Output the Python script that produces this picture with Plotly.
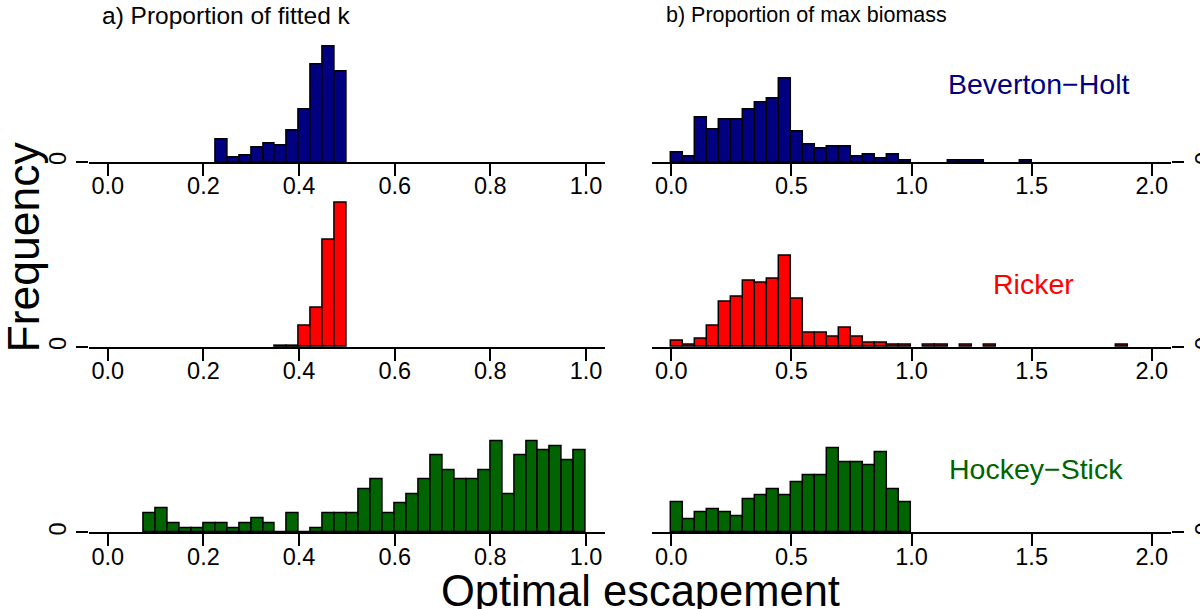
import plotly.graph_objects as go

# ---------------- data (bin left edges and counts) ----------------
bh_k_edges = [0.225, 0.25, 0.275, 0.3, 0.325, 0.35, 0.375, 0.4, 0.425, 0.45, 0.475]
bh_k_counts = [14, 3, 4, 9, 11, 10, 19, 32, 59, 70, 55]

bh_b_edges = [0.0, 0.05, 0.1, 0.15, 0.2, 0.25, 0.3, 0.35, 0.4, 0.45, 0.5, 0.55, 0.6, 0.65,
              0.7, 0.75, 0.8, 0.85, 0.9, 0.95, 1.15, 1.2, 1.25, 1.45]
bh_b_counts = [5, 3, 23, 17, 22, 22, 27, 31, 33, 43, 16, 9, 7, 8, 8, 3, 4, 2, 4, 1, 1, 1, 1, 1]

rk_k_edges = [0.35, 0.375, 0.4, 0.425, 0.45, 0.475]
rk_k_counts = [1, 1, 19, 35, 97, 131]

rk_b_edges = [0.0, 0.05, 0.1, 0.15, 0.2, 0.25, 0.3, 0.35, 0.4, 0.45, 0.5, 0.55, 0.6, 0.65,
              0.7, 0.75, 0.8, 0.85, 0.9, 0.95, 1.05, 1.1, 1.2, 1.3, 1.85]
rk_b_counts = [3, 1, 4, 11, 23, 26, 34, 33, 35, 47, 25, 7, 7, 5, 10, 5, 2, 2, 1, 1, 1, 1, 1, 1, 1]

hs_k_edges = [0.075, 0.1, 0.125, 0.15, 0.175, 0.2, 0.225, 0.25, 0.275, 0.3, 0.325, 0.35, 0.375,
              0.4, 0.425, 0.45, 0.475, 0.5, 0.525, 0.55, 0.575, 0.6, 0.625, 0.65, 0.675, 0.7,
              0.725, 0.75, 0.775, 0.8, 0.825, 0.85, 0.875, 0.9, 0.925, 0.95, 0.975]
hs_k_counts = [4, 5, 2, 1, 1, 2, 2, 1, 2, 3, 2, 0, 4, 0, 1, 4, 4, 4, 9, 11, 4, 6, 8, 11, 16, 13,
               11, 11, 13, 19, 8, 16, 19, 17, 18, 15, 17]

hs_b_edges = [0.0, 0.05, 0.1, 0.15, 0.2, 0.25, 0.3, 0.35, 0.4, 0.45, 0.5, 0.55, 0.6, 0.65,
              0.7, 0.75, 0.8, 0.85, 0.9, 0.95]
hs_b_counts = [9, 4, 6, 7, 6, 5, 10, 11, 13, 11, 15, 17, 17, 25, 21, 21, 20, 24, 13, 9]

k_bin_width = 0.025
b_bin_width = 0.05

left_ticks = [0.0, 0.2, 0.4, 0.6, 0.8, 1.0]
right_ticks = [0.0, 0.5, 1.0, 1.5, 2.0]

model_names = ["Beverton\u2212Holt", "Ricker", "Hockey\u2212Stick"]
model_colors = ["#000080", "#FF0000", "#006400"]
col_titles = ["a) Proportion of fitted k", "b) Proportion of max biomass"]

# ---------------- layout geometry (pixels of the 1200x609 picture) ----------------
W, H = 1200, 609
S = 1 / 0.9857          # compensation for the capture scaling observed in earlier runs
FONT = "Liberation Sans, Arial, Helvetica, sans-serif"
left_px = (88.6, 604.6)
right_px = (651.5, 1170.0)
rows_px = [(40.0, 160.5), (190.0, 343.5), (420.0, 527.3)]  # (top, baseline)
px_per_count = [(1.64, 1.92), (1.09, 1.92), (4.77, 3.33)]

panels = [
    [(bh_k_edges, bh_k_counts), (bh_b_edges, bh_b_counts)],
    [(rk_k_edges, rk_k_counts), (rk_b_edges, rk_b_counts)],
    [(hs_k_edges, hs_k_counts), (hs_b_edges, hs_b_counts)],
]


def fx(px):
    return px / W


def fy(py):
    return 1 - py / H


fig = go.Figure()
layout = {}
idx = 0
for r in range(3):
    top, base = rows_px[r]
    for c in range(2):
        idx += 1
        edges, counts = panels[r][c]
        bw = k_bin_width if c == 0 else b_bin_width
        xs = [e + bw / 2 for e in edges]
        xa = "x" if idx == 1 else f"x{idx}"
        ya = "y" if idx == 1 else f"y{idx}"
        fig.add_trace(go.Bar(
            x=xs, y=counts, width=bw, xaxis=xa, yaxis=ya,
            marker=dict(color=model_colors[r], line=dict(color="black", width=1.5)),
            showlegend=False, hoverinfo="x+y",
        ))
        dom = left_px if c == 0 else right_px
        xr = [-0.04, 1.04] if c == 0 else [-0.08, 2.08]
        ticks = left_ticks if c == 0 else right_ticks
        xkey = "xaxis" if idx == 1 else f"xaxis{idx}"
        ykey = "yaxis" if idx == 1 else f"yaxis{idx}"
        layout[xkey] = dict(
            domain=[fx(dom[0]), fx(dom[1])], range=xr, anchor=ya,
            tickvals=ticks, ticktext=[f"{t:.1f}" for t in ticks],
            ticks="outside", ticklen=12, tickwidth=2, tickcolor="black",
            ticklabelstandoff=-10,
            showline=True, linecolor="black", linewidth=2,
            showgrid=False, zeroline=False,
            tickfont=dict(family=FONT, size=23.5, color="black"),
        )
        yr_top = (base - top) / px_per_count[r][c]
        layout[ykey] = dict(
            domain=[fy(base), fy(top)], range=[0, yr_top], anchor=xa,
            side="left" if c == 0 else "right",
            tickvals=[0], ticktext=["0"], tickangle=-90,
            ticks="outside", ticklen=12, tickwidth=1.5, tickcolor="black",
            showline=False, showgrid=False, zeroline=False,
            tickfont=dict(family=FONT, size=23.5, color="black"),
        )

annotations = [
    dict(text=col_titles[0], x=fx(226), y=fy(15), font=dict(size=24.5)),
    dict(text=col_titles[1], x=fx(806), y=fy(15), font=dict(size=21.5)),
    dict(text=model_names[0], x=fx(1038), y=fy(83), font=dict(size=28.5, color=model_colors[0])),
    dict(text=model_names[1], x=fx(1033), y=fy(281), font=dict(size=28.5, color=model_colors[1])),
    dict(text=model_names[2], x=fx(1035), y=fy(464), font=dict(size=28.5, color=model_colors[2])),
    dict(text="Frequency", x=fx(23), y=fy(245), textangle=-90, font=dict(size=44.5)),
    dict(text="Optimal escapement", x=fx(640), y=fy(585), font=dict(size=43.5)),
]
for a in annotations:
    a.update(xref="paper", yref="paper", showarrow=False, xanchor="center", yanchor="middle")
    a["font"] = dict(family=FONT, color=a["font"].get("color", "black"), size=a["font"]["size"])

fig.update_layout(
    width=round(W * S), height=round(H * S), margin=dict(l=0, r=0, t=0, b=0),
    paper_bgcolor="white", plot_bgcolor="white",
    bargap=0, annotations=annotations, showlegend=False,
    font=dict(family=FONT, color="black"),
    **layout,
)

fig.write_html(
    "out.html",
    config={"displayModeBar": False},
    post_script="document.body.style.margin='0';document.body.style.overflow='hidden';",
)
